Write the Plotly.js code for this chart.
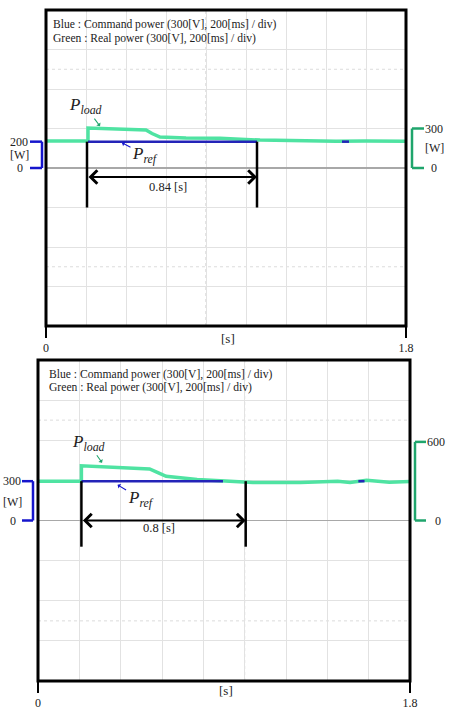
<!DOCTYPE html>
<html>
<head>
<meta charset="utf-8">
<script src="https://cdn.plot.ly/plotly-3.0.1.min.js"></script>
<style>
  html, body { margin: 0; padding: 0; background: #fff; }
  #scope { width: 454px; height: 711px; }
</style>
</head>
<body>
<div id="scope"></div>
<script>
// upper capture: time [s] and power [W]
const topTime  = [0, 0.21, 0.21, 0.35, 0.50, 0.53, 0.57, 0.70, 0.87, 1.07, 1.26, 1.45, 1.60, 1.80];
const topReal  = [205, 205, 304, 298, 288, 262, 235, 228, 225, 212, 205, 203, 205, 204];
const topCmdTime = [0.21, 1.055, 1.06, 1.48, 1.515];
const topCmd     = [200, 200, null, 200, 200];
const topSpan = [0.205, 1.055];

// lower capture
const botTime  = [0, 0.21, 0.21, 0.35, 0.54, 0.58, 0.62, 0.77, 0.90, 1.04, 1.27, 1.45, 1.51, 1.59, 1.70, 1.80];
const botReal  = [300, 300, 417, 405, 393, 365, 337, 313, 305, 290, 290, 300, 290, 307, 292, 298];
const botCmdTime = [0.21, 0.895, 0.90, 1.55, 1.58];
const botCmd     = [300, 300, null, 300, 300];
const botSpan = [0.21, 1.005];

const xTicks = [0, 1.8];
const xTickText = ['0', '1.8'];
const header = ['Blue : Command power (300[V], 200[ms] / div)',
                'Green : Real power (300[V], 200[ms] / div)'];

const GREEN = '#4fe3a2';
const GREEN_DARK = '#1fa56c';
const BLUE = '#2424b8';
const BLUE_BR = '#1515cc';
const SERIF = "'Liberation Serif', 'DejaVu Serif', serif";

window.addEventListener('DOMContentLoaded', init);

function init() {
    Plotly.newPlot('scope', traces(), layout(), {staticPlot: true});
}

function traces() {
    return [
        {x: topTime, y: topReal, xaxis: 'x', yaxis: 'y', mode: 'lines',
         line: {color: GREEN, width: 3.5}},
        {x: topCmdTime, y: topCmd, xaxis: 'x', yaxis: 'y', mode: 'lines',
         line: {color: BLUE, width: 2.5}},
        {x: botTime, y: botReal, xaxis: 'x2', yaxis: 'y2', mode: 'lines',
         line: {color: GREEN, width: 3.5}},
        {x: botCmdTime, y: botCmd, xaxis: 'x2', yaxis: 'y2', mode: 'lines',
         line: {color: BLUE, width: 2.5}}
    ];
}

function xAxis(domain, anchor) {
    return {
        domain: domain, anchor: anchor, range: [0, 1.8],
        tickvals: xTicks, ticktext: xTickText, ticks: 'outside',
        ticklen: 11, tickwidth: 2.5, tickcolor: '#000',
        tickfont: {family: SERIF, size: 12, color: '#222'},
        showgrid: false, zeroline: false, showline: false,
        minor: {dtick: 0.2, tick0: 0, showgrid: true, gridcolor: '#e2e2e2', gridwidth: 1}
    };
}

function yAxis(domain, anchor, half) {
    return {
        domain: domain, anchor: anchor, range: [-half, half],
        dtick: half / 4, tick0: 0, showticklabels: false, ticks: '',
        showgrid: true, gridcolor: '#e2e2e2', gridwidth: 1,
        zeroline: true, zerolinecolor: '#a8a8a8', zerolinewidth: 1.2, showline: false
    };
}

// bracket in paper x, data y
function bracket(shapes, yref, xv, xt, y1, color) {
    const ln = {color: color, width: 2.5};
    shapes.push({type: 'line', xref: 'paper', yref: yref, x0: xv, x1: xv, y0: 0, y1: y1, line: ln});
    shapes.push({type: 'line', xref: 'paper', yref: yref, x0: xt, x1: xv, y0: 0, y1: 0, line: ln});
    shapes.push({type: 'line', xref: 'paper', yref: yref, x0: xt, x1: xv, y0: y1, y1: y1, line: ln});
}

function label(text, xref, yref, x, y, size, extra) {
    return Object.assign({text: text, xref: xref, yref: yref, x: x, y: y, showarrow: false,
        xanchor: 'center', yanchor: 'middle',
        font: {family: SERIF, size: size, color: '#222'}}, extra || {});
}

function spanMarks(shapes, annos, xr, yr, span, top, low, arrowY, txt, txtY) {
    const ln = {color: '#000', width: 2.5};
    span.forEach(t => shapes.push({type: 'line', xref: xr, yref: yr, x0: t, x1: t, y0: top, y1: low, line: ln}));
    annos.push({xref: xr, yref: yr, axref: xr, ayref: yr, x: span[1], y: arrowY, ax: span[0], ay: arrowY,
        text: '', showarrow: true, arrowhead: 4, startarrowhead: 4, arrowside: 'end+start',
        arrowsize: 1.3, startarrowsize: 1.3, arrowwidth: 2, arrowcolor: '#000', standoff: 0, startstandoff: 0});
    annos.push(label(txt, xr, yr, (span[0] + span[1]) / 2 - 0.02, txtY, 12.5));
}

function layout() {
    const shapes = [];
    const annos = [];

    // frames, crosshair and faint dotted lines
    [['x', 'y', 0.8, 750], ['x2', 'y2', 1.0, 766]].forEach(p => {
        shapes.push({type: 'line', xref: p[0], yref: p[1] + ' domain', x0: p[2], x1: p[2], y0: 0, y1: 1,
            line: {color: '#c8c8c8', width: 1, dash: 'dot'}, layer: 'below'});
        [-p[3], p[3]].forEach(v => shapes.push({type: 'line', xref: p[0] + ' domain', yref: p[1], x0: 0, x1: 1,
            y0: v, y1: v, line: {color: '#dcdcdc', width: 1, dash: 'dot'}, layer: 'below'}));
        shapes.push({type: 'rect', xref: p[0] + ' domain', yref: p[1] + ' domain', x0: 0, x1: 1, y0: 0, y1: 1,
            line: {color: '#000', width: 3}});
    });

    // side brackets
    bracket(shapes, 'y', 42 / 454, 30 / 454, 200, BLUE_BR);
    bracket(shapes, 'y', 412 / 454, 424 / 454, 300, GREEN_DARK);
    bracket(shapes, 'y2', 33 / 454, 22 / 454, 300, BLUE_BR);
    bracket(shapes, 'y2', 415 / 454, 426 / 454, 600, GREEN_DARK);

    annos.push(label('200', 'paper', 'y', 19 / 454, 200, 12));
    annos.push(label('[W]', 'paper', 'y', 19 / 454, 100, 12));
    annos.push(label('0', 'paper', 'y', 20 / 454, 0, 12));
    annos.push(label('300', 'paper', 'y', 434 / 454, 300, 12));
    annos.push(label('[W]', 'paper', 'y', 434 / 454, 150, 12));
    annos.push(label('0', 'paper', 'y', 434 / 454, 0, 12));

    annos.push(label('300', 'paper', 'y2', 12 / 454, 300, 12));
    annos.push(label('[W]', 'paper', 'y2', 12 / 454, 145, 12));
    annos.push(label('0', 'paper', 'y2', 13 / 454, 0, 12));
    annos.push(label('600', 'paper', 'y2', 436 / 454, 600, 12));
    annos.push(label('0', 'paper', 'y2', 438 / 454, 0, 12));

    // header lines
    annos.push(label(header[0], 'x domain', 'y domain', 0.014, 0.953, 11.6, {xanchor: 'left'}));
    annos.push(label(header[1], 'x domain', 'y domain', 0.014, 0.911, 11.6, {xanchor: 'left'}));
    annos.push(label(header[0], 'x2 domain', 'y2 domain', 0.024, 0.956, 11.6, {xanchor: 'left'}));
    annos.push(label(header[1], 'x2 domain', 'y2 domain', 0.024, 0.913, 11.6, {xanchor: 'left'}));

    // time unit
    annos.push(label('[s]', 'x domain', 'paper', 0.506, 1 - 338 / 711, 13));
    annos.push(label('[s]', 'x2 domain', 'paper', 0.505, 1 - 690 / 711, 13));

    // measured spans
    spanMarks(shapes, annos, 'x', 'y', topSpan, 200, -300, -68, '0.84 [s]', -148);
    spanMarks(shapes, annos, 'x2', 'y2', botSpan, 300, -200, 0, '0.8 [s]', -55);

    // trace callouts
    const pArrow = (xr, yr, x, y, ax, ay, txt, col) => annos.push({
        xref: xr, yref: yr, x: x, y: y, ax: ax, ay: ay, text: txt, showarrow: true,
        arrowhead: 1, arrowsize: 0.8, arrowwidth: 1.1, arrowcolor: col, standoff: 0,
        font: {family: SERIF, size: 17, color: '#222'}
    });
    pArrow('x', 'y', 0.27, 318, -15, -20, '<i>P<sub>load</sub></i>', GREEN_DARK);
    pArrow('x', 'y', 0.38, 192, 23, 12, '<i>P<sub>ref</sub></i>', BLUE_BR);
    pArrow('x2', 'y2', 0.31, 441, -14, -20, '<i>P<sub>load</sub></i>', GREEN_DARK);
    pArrow('x2', 'y2', 0.385, 272, 23, 14, '<i>P<sub>ref</sub></i>', BLUE_BR);

    return {
        width: 454, height: 711,
        margin: {l: 0, r: 0, t: 0, b: 0},
        paper_bgcolor: '#fff', plot_bgcolor: '#fff',
        showlegend: false,
        font: {family: SERIF},
        xaxis: xAxis([46 / 454, 406 / 454], 'y'),
        yaxis: yAxis([1 - 326 / 711, 1 - 10 / 711], 'x', 1200),
        xaxis2: xAxis([38 / 454, 410 / 454], 'y2'),
        yaxis2: yAxis([1 - 681 / 711, 1 - 360 / 711], 'x2', 1225),
        shapes: shapes,
        annotations: annos
    };
}
</script>
</body>
</html>
